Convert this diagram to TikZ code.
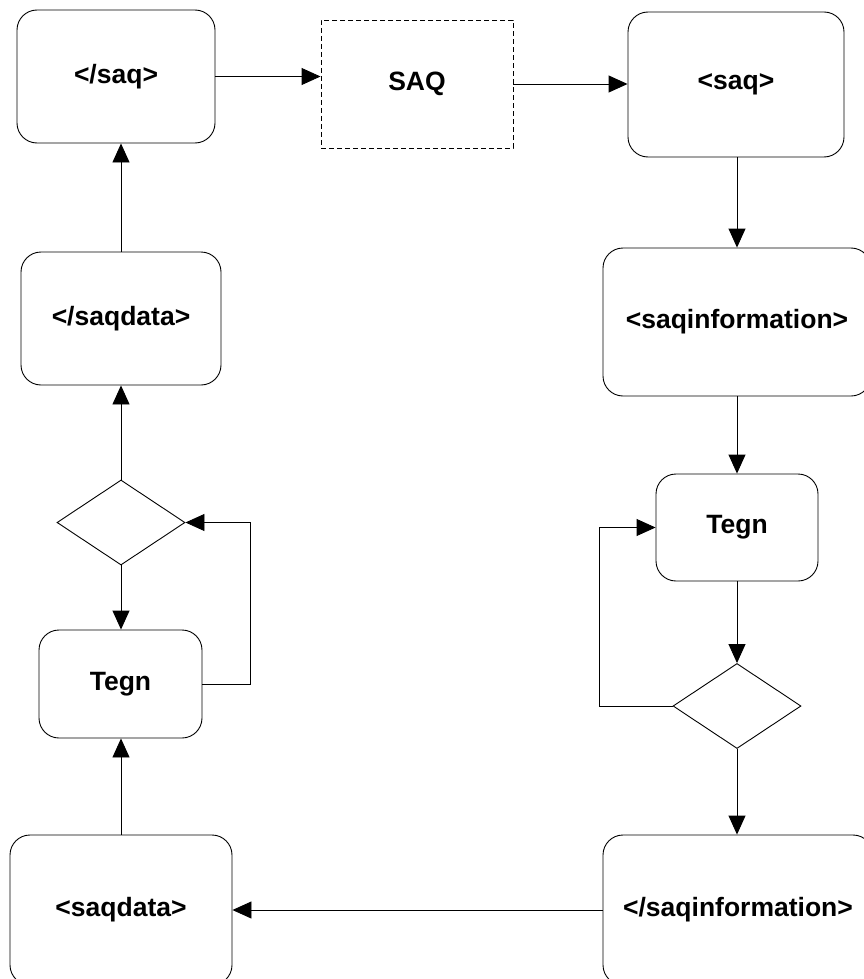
\documentclass[tikz,border=0pt]{standalone}
\usepackage{fontspec}
\setmainfont{Liberation Sans}
\usetikzlibrary{arrows.meta,shapes.geometric}
\begin{document}
\begin{tikzpicture}[x=1pt,y=-1pt,
  box/.style={draw=black,line width=0.9pt,rounded corners=20pt,rectangle,inner sep=0pt,
    font=\fontsize{26.5}{30}\selectfont\bfseries},
  dbox/.style={draw=black,line width=0.9pt,dash pattern=on 5pt off 3pt,rectangle,inner sep=0pt,
    font=\fontsize{26.5}{30}\selectfont\bfseries},
  dec/.style={draw=black,line width=0.9pt,diamond,inner sep=0pt,aspect=1.5},
  conn/.style={draw=black,line width=0.9pt,-{Triangle[length=19pt,width=17pt]}}]
\useasboundingbox (0,0) rectangle (863,979);
\node[box,minimum width=198pt,minimum height=133pt] (endsaq) at (116,76.5) {</saq>};
\node[dbox,minimum width=192pt,minimum height=128pt] (SAQ) at (417,84) {SAQ};
\node[box,minimum width=216pt,minimum height=145pt] (saq) at (736,84.5) {<saq>};
\node[box,minimum width=200pt,minimum height=133pt] (endsaqdata) at (121,318.5) {</saqdata>};
\node[box,minimum width=268pt,minimum height=148pt] (info) at (737,322) {<saqinformation>};
\node[box,minimum width=162pt,minimum height=107pt] (tR) at (737,527.5) {Tegn};
\node[dec,minimum width=128pt,minimum height=85pt] (dL) at (121,522.5) {};
\node[box,minimum width=163pt,minimum height=108pt] (tL) at (120.5,684) {Tegn};
\node[dec,minimum width=128pt,minimum height=85pt] (dR) at (737,706) {};
\node[box,minimum width=270pt,minimum height=150pt] (endinfo) at (738,910) {</saqinformation>};
\node[box,minimum width=222pt,minimum height=150pt] (saqdata) at (121,910) {<saqdata>};
\draw[conn] (endsaq.east) -- (SAQ.west |- endsaq.east);
\draw[conn] (SAQ.east) -- (saq.west |- SAQ.east);
\draw[conn] (saq.south -| info.north) -- (info.north);
\draw[conn] (info.south) -- (tR.north);
\draw[conn] (tR.south) -- (dR.north);
\draw[conn] (dR.west) -- ++(-73,0) |- (tR.west);
\draw[conn] (dR.south) -- (dR.south |- endinfo.north);
\draw[conn] (endinfo.west) -- (saqdata.east |- endinfo.west);
\draw[conn] (saqdata.north) -- (saqdata.north |- tL.south);
\draw[conn] (tL.east) -- ++(48,0) |- (dL.east);
\draw[conn] (dL.north) -- (endsaqdata.south);
\draw[conn] (dL.south) -- (dL.south |- tL.north);
\draw[conn] (endsaqdata.north) -- (endsaqdata.north |- endsaq.south);
\end{tikzpicture}
\end{document}
